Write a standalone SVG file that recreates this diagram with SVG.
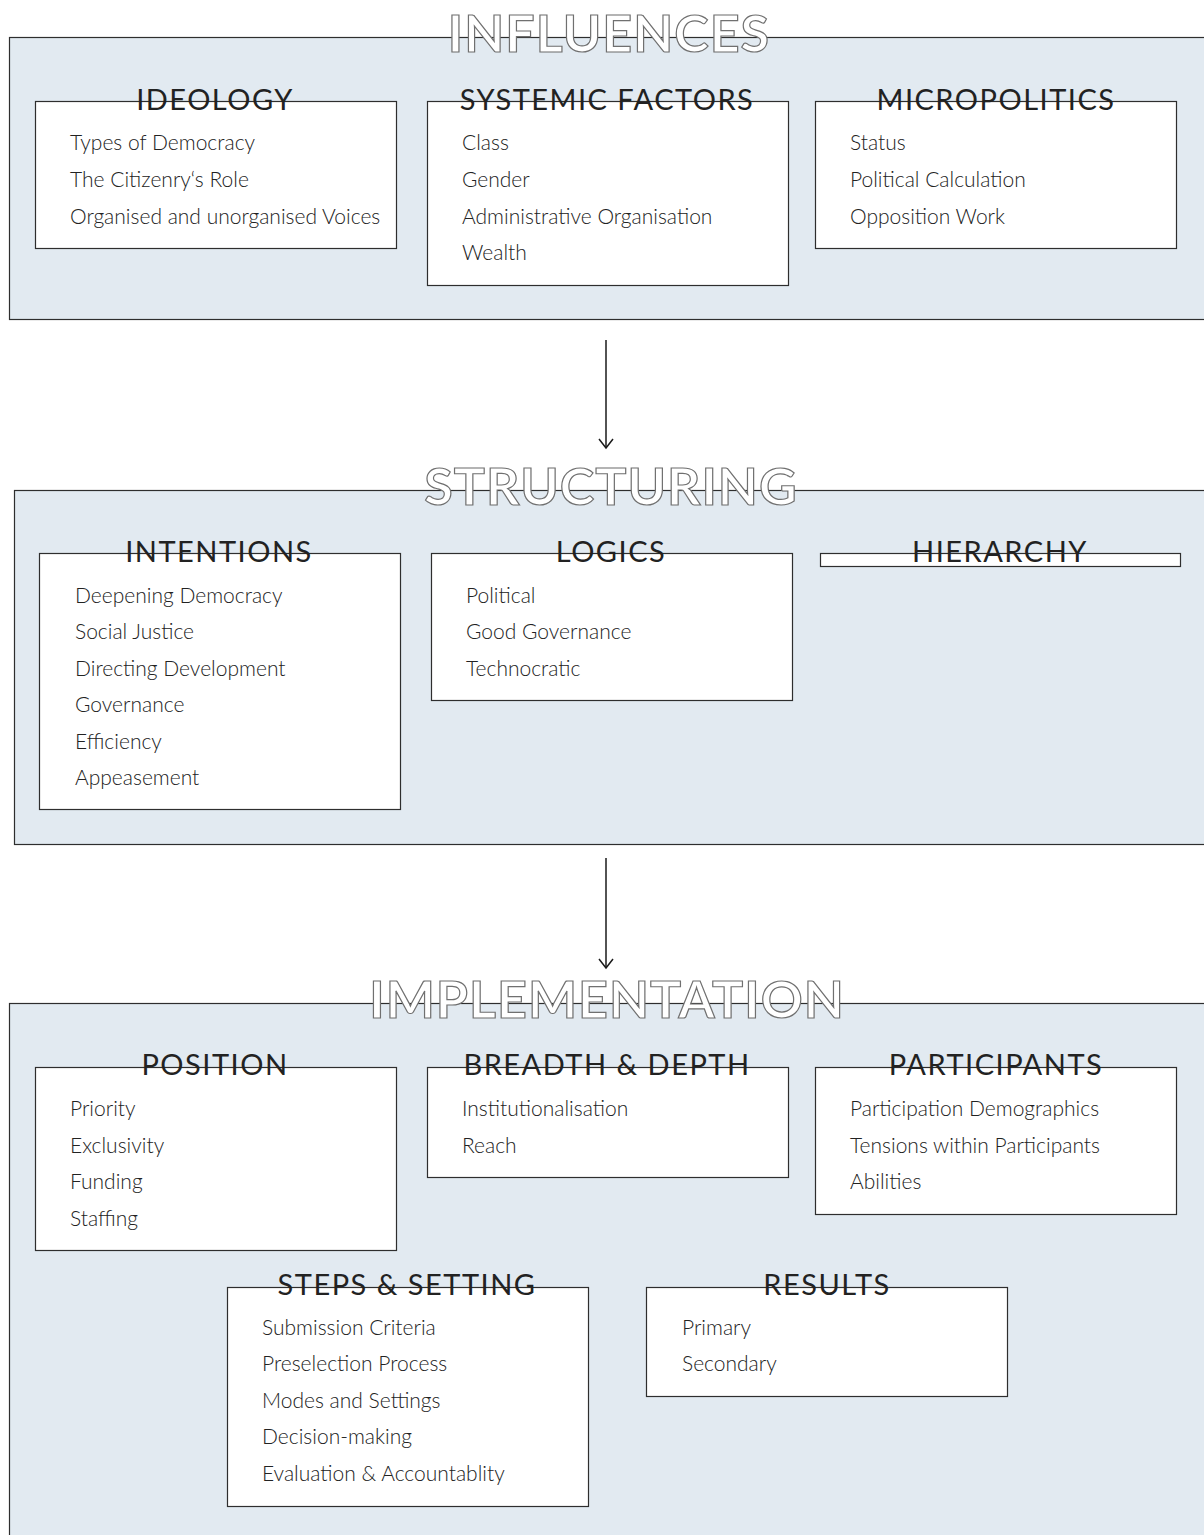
<svg xmlns="http://www.w3.org/2000/svg" width="1204" height="1535" viewBox="0 0 1204 1535">
<defs>
<style>
.panel{fill:#e2eaf1;stroke:#2e2e2e;stroke-width:1.2}
.box{fill:#ffffff;stroke:#2e2e2e;stroke-width:1.2}
.title{font-family:Lato,"Liberation Sans",sans-serif;font-weight:700;font-size:52px;fill:#ffffff;stroke:#707070;stroke-width:1.2;letter-spacing:1px;text-anchor:middle}
.head{font-family:Lato,"Liberation Sans",sans-serif;font-weight:400;font-size:29px;fill:#222222;letter-spacing:1.5px;text-anchor:middle}
.item{font-family:Lato,"Liberation Sans",sans-serif;font-weight:300;font-size:21px;fill:#222222}
.conn{stroke:#1a1a1a;stroke-width:1.5;fill:none}
</style>
<marker id="arr" markerWidth="12" markerHeight="16" refX="10" refY="8" orient="auto" markerUnits="userSpaceOnUse" viewBox="0 0 12 16">
<path d="M1,1 L10,8 L1,15" fill="none" stroke="#1a1a1a" stroke-width="1.5"/>
</marker>
</defs>
<rect width="1204" height="1535" fill="#ffffff"/>

<g id="influences">
<rect class="panel" x="9.5" y="37.5" width="1200" height="282"/>
<text class="title" x="609" y="52">INFLUENCES</text>
</g>
<g id="ideology">
<rect class="box" x="35.5" y="101.5" width="361" height="147"/>
<text class="head" x="215" y="110">IDEOLOGY</text>
<text class="item" x="70" y="150">Types of Democracy</text>
<text class="item" x="70" y="187">The Citizenry‘s Role</text>
<text class="item" x="70" y="224">Organised and unorganised Voices</text>
</g>
<g id="systemic-factors">
<rect class="box" x="427.5" y="101.5" width="361" height="184"/>
<text class="head" x="607" y="110">SYSTEMIC FACTORS</text>
<text class="item" x="462" y="150">Class</text>
<text class="item" x="462" y="187">Gender</text>
<text class="item" x="462" y="224">Administrative Organisation</text>
<text class="item" x="462" y="260">Wealth</text>
</g>
<g id="micropolitics">
<rect class="box" x="815.5" y="101.5" width="361" height="147"/>
<text class="head" x="996" y="110">MICROPOLITICS</text>
<text class="item" x="850" y="150">Status</text>
<text class="item" x="850" y="187">Political Calculation</text>
<text class="item" x="850" y="224">Opposition Work</text>
</g>

<g id="structuring">
<rect class="panel" x="14.5" y="490.5" width="1200" height="354"/>
<text class="title" x="611" y="505">STRUCTURING</text>
</g>
<g id="intentions">
<rect class="box" x="39.5" y="553.5" width="361" height="256"/>
<text class="head" x="219" y="562">INTENTIONS</text>
<text class="item" x="75" y="603">Deepening Democracy</text>
<text class="item" x="75" y="639">Social Justice</text>
<text class="item" x="75" y="676">Directing Development</text>
<text class="item" x="75" y="712">Governance</text>
<text class="item" x="75" y="749">Efficiency</text>
<text class="item" x="75" y="785">Appeasement</text>
</g>
<g id="logics">
<rect class="box" x="431.5" y="553.5" width="361" height="147"/>
<text class="head" x="611" y="562">LOGICS</text>
<text class="item" x="466" y="603">Political</text>
<text class="item" x="466" y="639">Good Governance</text>
<text class="item" x="466" y="676">Technocratic</text>
</g>
<g id="hierarchy">
<rect class="box" x="820.5" y="553.5" width="360" height="13"/>
<text class="head" x="1000" y="562">HIERARCHY</text>
</g>

<g id="implementation">
<rect class="panel" x="9.5" y="1003.5" width="1200" height="540"/>
<text class="title" x="607" y="1018">IMPLEMENTATION</text>
</g>
<g id="position">
<rect class="box" x="35.5" y="1067.5" width="361" height="183"/>
<text class="head" x="215" y="1075">POSITION</text>
<text class="item" x="70" y="1116">Priority</text>
<text class="item" x="70" y="1153">Exclusivity</text>
<text class="item" x="70" y="1189">Funding</text>
<text class="item" x="70" y="1226">Staffing</text>
</g>
<g id="breadth-depth">
<rect class="box" x="427.5" y="1067.5" width="361" height="110"/>
<text class="head" x="607" y="1075">BREADTH &amp; DEPTH</text>
<text class="item" x="462" y="1116">Institutionalisation</text>
<text class="item" x="462" y="1153">Reach</text>
</g>
<g id="participants">
<rect class="box" x="815.5" y="1067.5" width="361" height="147"/>
<text class="head" x="996" y="1075">PARTICIPANTS</text>
<text class="item" x="850" y="1116">Participation Demographics</text>
<text class="item" x="850" y="1153">Tensions within Participants</text>
<text class="item" x="850" y="1189">Abilities</text>
</g>
<g id="steps-setting">
<rect class="box" x="227.5" y="1287.5" width="361" height="219"/>
<text class="head" x="407" y="1295">STEPS &amp; SETTING</text>
<text class="item" x="262" y="1335">Submission Criteria</text>
<text class="item" x="262" y="1371">Preselection Process</text>
<text class="item" x="262" y="1408">Modes and Settings</text>
<text class="item" x="262" y="1444">Decision-making</text>
<text class="item" x="262" y="1481">Evaluation &amp; Accountablity</text>
</g>
<g id="results">
<rect class="box" x="646.5" y="1287.5" width="361" height="109"/>
<text class="head" x="827" y="1295">RESULTS</text>
<text class="item" x="682" y="1335">Primary</text>
<text class="item" x="682" y="1371">Secondary</text>
</g>

<g id="connectors">
<line class="conn" x1="606" y1="340" x2="606" y2="448" marker-end="url(#arr)"/>
<line class="conn" x1="606" y1="858" x2="606" y2="968" marker-end="url(#arr)"/>
</g>
</svg>
